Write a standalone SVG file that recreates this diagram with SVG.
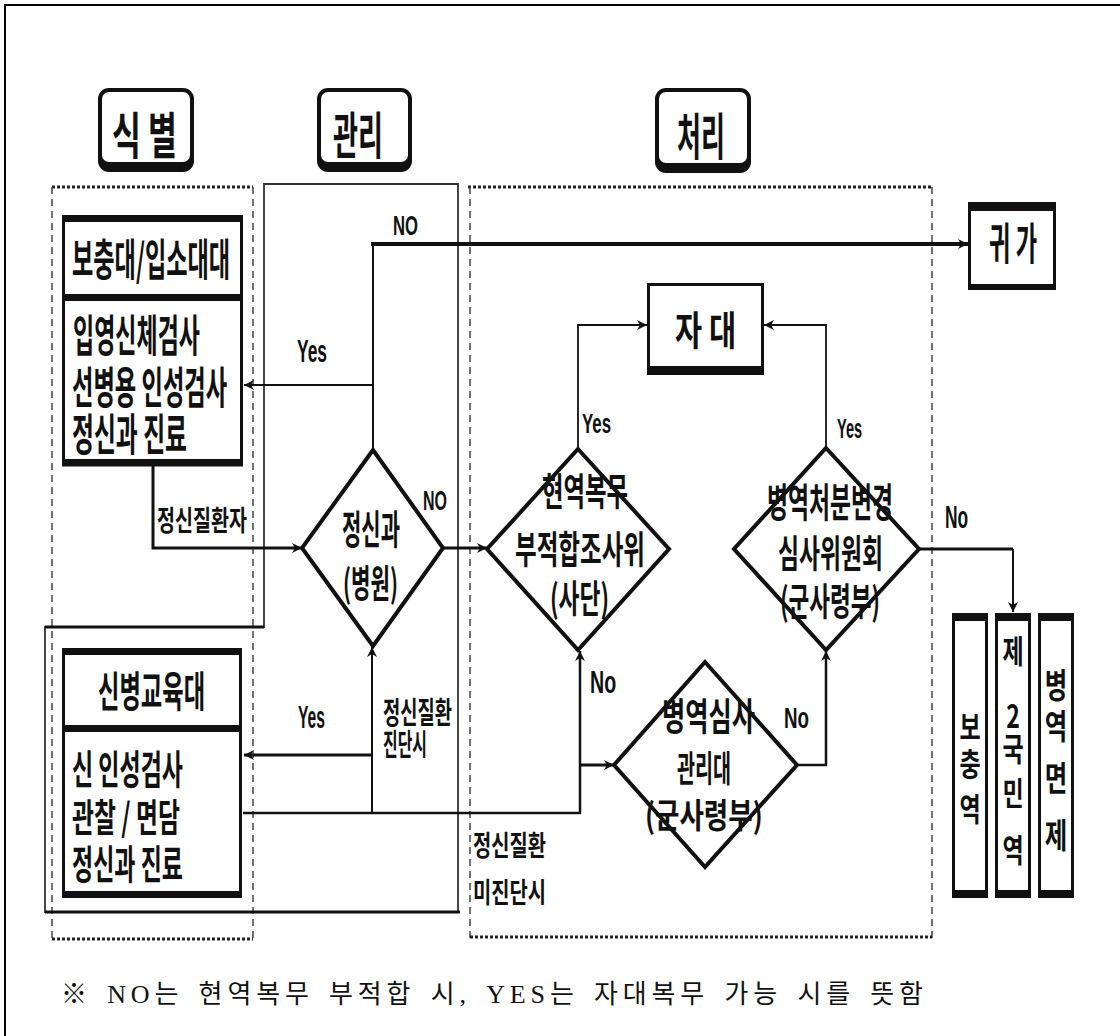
<svg xmlns="http://www.w3.org/2000/svg" width="1120" height="1036" viewBox="0 0 1120 1036">
<defs>
<marker id="arr" viewBox="0 0 10 10" refX="10" refY="5" markerWidth="10" markerHeight="10" markerUnits="userSpaceOnUse" orient="auto"><path d="M0,0 L10,5 L0,10 L3,5 z" fill="#111"/></marker>
</defs>
<style>
.hd{font-family:"Noto Sans CJK KR",sans-serif;font-weight:700;font-size:50px;fill:#111}
.bx{font-family:"Noto Sans CJK KR",sans-serif;font-weight:700;fill:#111}
.lb{font-family:"Noto Sans CJK KR",sans-serif;font-weight:700;fill:#111}
.en{font-family:"Liberation Sans",sans-serif;font-weight:700;fill:#111}
.note{font-family:"Liberation Serif","Noto Sans CJK KR",serif;font-size:26px;fill:#111;word-spacing:4px}
.ln{fill:none;stroke:#111}
.band{fill:#111}
.frame{fill:#fff;stroke:#111;stroke-width:3}
.dia{fill:#fff;stroke:#111;stroke-width:4;stroke-linejoin:miter}
.dot{fill:none;stroke:#222;stroke-width:3;stroke-dasharray:3 2}
.dash{fill:none;stroke:#444;stroke-width:1.5;stroke-dasharray:7 5}
</style>
<rect width="1120" height="1036" fill="#fff"/>
<path d="M5,1036 V5 H1120" fill="none" stroke="#000" stroke-width="2"/>

<g id="regions">
<line class="dot" x1="52" y1="187" x2="253" y2="187"/>
<line class="dash" x1="52" y1="187" x2="52" y2="940"/>
<line class="dash" x1="253" y1="187" x2="253" y2="940" stroke="#222" stroke-width="2"/>
<line class="dot" x1="52" y1="939" x2="253" y2="939" stroke-width="1.5"/>
<path d="M264,184 H458 V912 H45 V627 H264 Z" fill="none" stroke="#333" stroke-width="1.8"/>
<line x1="45" y1="912" x2="460" y2="912" stroke="#111" stroke-width="3"/>
<line x1="45" y1="627" x2="264" y2="627" stroke="#111" stroke-width="3"/>
<line class="dot" x1="468" y1="187" x2="932" y2="187"/>
<line class="dash" x1="470" y1="187" x2="470" y2="938"/>
<line class="dash" x1="932" y1="187" x2="932" y2="938"/>
<line class="dot" x1="470" y1="937" x2="932" y2="937"/>
</g>

<g id="hdr-sikbyeol"><rect x="98" y="88" width="96" height="84" rx="11" fill="#111"/><rect x="102" y="92" width="88" height="70" rx="7" fill="#fff"/><text class="hd" transform="translate(112,154) scale(0.585,1)" textLength="111" lengthAdjust="spacingAndGlyphs">식 별</text></g>
<g id="hdr-gwanri"><rect x="317" y="88" width="95" height="84" rx="11" fill="#111"/><rect x="321" y="92" width="87" height="70" rx="7" fill="#fff"/><text class="hd" transform="translate(333,154) scale(0.5,1)" textLength="100" lengthAdjust="spacingAndGlyphs">관리</text></g>
<g id="hdr-cheori"><rect x="655" y="88" width="96" height="85" rx="11" fill="#111"/><rect x="659" y="92" width="88" height="71" rx="7" fill="#fff"/><text class="hd" transform="translate(677,155) scale(0.48,1)" textLength="100" lengthAdjust="spacingAndGlyphs">처리</text></g>

<g id="connectors">
<path class="ln" stroke-width="3" d="M153,466 V548 H302" marker-end="url(#arr)"/>
<path class="ln" stroke-width="2" d="M373,450 V244"/>
<path class="ln" stroke-width="4" d="M371,244 H968" marker-end="url(#arr)"/>
<path class="ln" stroke="#555" stroke-width="2" d="M373,385 H244" marker-end="url(#arr)"/>
<path class="ln" stroke-width="3" d="M443,548 H487" marker-end="url(#arr)"/>
<path class="ln" stroke-width="1.8" d="M578,449 V325 H647" marker-end="url(#arr)"/>
<path class="ln" stroke-width="1.8" d="M826,448 V325 H764" marker-end="url(#arr)"/>
<path class="ln" stroke-width="3" d="M919,549 H1013"/>
<path class="ln" stroke-width="2" d="M1013,549 V612" marker-end="url(#arr)"/>
<path class="ln" stroke-width="2.5" d="M243,813 H580 V651" marker-end="url(#arr)"/>
<path class="ln" stroke-width="2" d="M372,813 V647" marker-end="url(#arr)"/>
<path class="ln" stroke="#666" stroke-width="3" d="M372,755 H244" marker-end="url(#arr)"/>
<path class="ln" stroke-width="3" d="M580,765 H614" marker-end="url(#arr)"/>
<path class="ln" stroke-width="2.5" d="M797,765 H826 V651" marker-end="url(#arr)"/>
</g>

<g id="n-bochungdae">
<rect class="frame" x="63.5" y="217" width="178" height="248"/>
<rect class="band" x="62" y="215" width="181" height="7"/>
<rect class="band" x="62" y="294" width="181" height="7"/>
<rect class="band" x="62" y="459" width="181" height="7"/>
<text class="bx" font-size="44" transform="translate(72,276) scale(0.485,1)" textLength="326" lengthAdjust="spacingAndGlyphs">보충대/입소대대</text>
<text class="bx" font-size="44" transform="translate(73,352) scale(0.481,1)" textLength="264" lengthAdjust="spacingAndGlyphs">입영신체검사</text>
<text class="bx" font-size="44" transform="translate(72,404) scale(0.488,1)" textLength="318" lengthAdjust="spacingAndGlyphs">선병용 인성검사</text>
<text class="bx" font-size="44" transform="translate(72,451) scale(0.5,1)" textLength="230" lengthAdjust="spacingAndGlyphs">정신과 진료</text>
</g>

<g id="n-sinbyeong">
<rect class="frame" x="63.5" y="650" width="177" height="246"/>
<rect class="band" x="62" y="648" width="180" height="7"/>
<rect class="band" x="62" y="725" width="180" height="7"/>
<rect class="band" x="62" y="891" width="180" height="7"/>
<text class="bx" font-size="42" transform="translate(98,707) scale(0.51,1)" textLength="210" lengthAdjust="spacingAndGlyphs">신병교육대</text>
<text class="bx" font-size="40" transform="translate(72,784) scale(0.531,1)" textLength="209" lengthAdjust="spacingAndGlyphs">신 인성검사</text>
<text class="bx" font-size="38" transform="translate(72,831) scale(0.586,1)" textLength="184" lengthAdjust="spacingAndGlyphs">관찰 / 면담</text>
<text class="bx" font-size="40" transform="translate(72,879) scale(0.531,1)" textLength="209" lengthAdjust="spacingAndGlyphs">정신과 진료</text>
</g>

<g id="n-gwiga">
<rect class="frame" x="969.5" y="204" width="85" height="84"/>
<rect class="band" x="968" y="202" width="88" height="9"/>
<rect class="band" x="968" y="284" width="88" height="6"/>
<text class="bx" font-size="44" transform="translate(989,260) scale(0.49,1)" textLength="98" lengthAdjust="spacingAndGlyphs">귀 가</text>
</g>

<g id="n-jadae">
<rect class="frame" x="648.5" y="284.5" width="114" height="88"/>
<rect class="band" x="647" y="366" width="117" height="9"/>
<text class="bx" font-size="40" transform="translate(675,345) scale(0.686,1)" textLength="89" lengthAdjust="spacingAndGlyphs">자 대</text>
</g>

<g id="d-jeongsingwa">
<polygon class="dia" points="373,450 443,548 373,646 302,548"/>
<text class="bx" font-size="40" transform="translate(342,544) scale(0.483,1)" textLength="120" lengthAdjust="spacingAndGlyphs">정신과</text>
<text class="bx" font-size="38" transform="translate(343,597) scale(0.544,1)" textLength="101" lengthAdjust="spacingAndGlyphs">(병원)</text>
</g>

<g id="d-hyeonyeok">
<polygon class="dia" points="578,449 669,549 578,650 487,549"/>
<text class="bx" font-size="38" transform="translate(542,505) scale(0.566,1)" textLength="152" lengthAdjust="spacingAndGlyphs">현역복무</text>
<text class="bx" font-size="38" transform="translate(515,563) scale(0.57,1)" textLength="228" lengthAdjust="spacingAndGlyphs">부적합조사위</text>
<text class="bx" font-size="38" transform="translate(550,612) scale(0.584,1)" textLength="101" lengthAdjust="spacingAndGlyphs">(사단)</text>
</g>

<g id="d-byeongyeokcheobun">
<polygon class="dia" points="826,448 919,549 826,650 734,549"/>
<text class="bx" font-size="40" transform="translate(767,517) scale(0.525,1)" textLength="240" lengthAdjust="spacingAndGlyphs">병역처분변경</text>
<text class="bx" font-size="38" transform="translate(778,567) scale(0.553,1)" textLength="190" lengthAdjust="spacingAndGlyphs">심사위원회</text>
<text class="bx" font-size="38" transform="translate(780,615) scale(0.565,1)" textLength="177" lengthAdjust="spacingAndGlyphs">(군사령부)</text>
</g>

<g id="d-byeongyeoksimsa">
<polygon class="dia" points="705,662 797,765 705,867 614,765"/>
<text class="bx" font-size="38" transform="translate(662,730) scale(0.612,1)" textLength="152" lengthAdjust="spacingAndGlyphs">병역심사</text>
<text class="bx" font-size="36" transform="translate(677,782) scale(0.5,1)" textLength="108" lengthAdjust="spacingAndGlyphs">관리대</text>
<text class="bx" font-size="34" transform="translate(645,828) scale(0.745,1)" textLength="158" lengthAdjust="spacingAndGlyphs">(군사령부)</text>
</g>

<g id="n-bochungyeok">
<rect class="frame" x="953.5" y="615" width="33" height="281"/>
<rect class="band" x="952" y="613" width="36" height="8"/>
<rect class="band" x="952" y="890" width="36" height="8"/>
<text class="bx" font-size="32" text-anchor="middle" transform="translate(970,0) scale(0.72,1)"><tspan x="0" y="739">보</tspan><tspan x="0" y="776">충</tspan><tspan x="0" y="821">역</tspan></text>
</g>
<g id="n-je2gukmin">
<rect class="frame" x="996.5" y="615" width="33" height="281"/>
<rect class="band" x="995" y="613" width="36" height="8"/>
<rect class="band" x="995" y="890" width="36" height="8"/>
<text class="bx" font-size="32" text-anchor="middle" transform="translate(1013,0) scale(0.72,1)"><tspan x="0" y="663">제</tspan><tspan x="0" y="728">2</tspan><tspan x="0" y="761">국</tspan><tspan x="0" y="805">민</tspan><tspan x="0" y="862">역</tspan></text>
</g>
<g id="n-myeonje">
<rect class="frame" x="1039.5" y="615" width="33" height="281"/>
<rect class="band" x="1038" y="613" width="36" height="8"/>
<rect class="band" x="1038" y="890" width="36" height="8"/>
<text class="bx" font-size="34" text-anchor="middle" transform="translate(1056,0) scale(0.72,1)"><tspan x="0" y="698">병</tspan><tspan x="0" y="739">역</tspan><tspan x="0" y="791">면</tspan><tspan x="0" y="848">제</tspan></text>
</g>

<g id="labels">
<text class="lb" font-size="28" transform="translate(157,531) scale(0.643,1)" textLength="140" lengthAdjust="spacingAndGlyphs">정신질환자</text>
<text class="lb" font-size="30" transform="translate(383,723) scale(0.575,1)" textLength="120" lengthAdjust="spacingAndGlyphs">정신질환</text>
<text class="lb" font-size="30" transform="translate(383,755) scale(0.489,1)" textLength="90" lengthAdjust="spacingAndGlyphs">진단시</text>
<text class="lb" font-size="28" transform="translate(473,856) scale(0.652,1)" textLength="112" lengthAdjust="spacingAndGlyphs">정신질환</text>
<text class="lb" font-size="28" transform="translate(473,903) scale(0.652,1)" textLength="112" lengthAdjust="spacingAndGlyphs">미진단시</text>
<text class="en" font-size="32" transform="translate(297,362) scale(0.527,1)" textLength="57" lengthAdjust="spacingAndGlyphs">Yes</text>
<text class="en" font-size="28" transform="translate(393,235) scale(0.595,1)" textLength="42" lengthAdjust="spacingAndGlyphs">NO</text>
<text class="en" font-size="28" transform="translate(423,510) scale(0.571,1)" textLength="42" lengthAdjust="spacingAndGlyphs">NO</text>
<text class="en" font-size="32" transform="translate(298,728) scale(0.474,1)" textLength="57" lengthAdjust="spacingAndGlyphs">Yes</text>
<text class="en" font-size="28" transform="translate(582,433) scale(0.582,1)" textLength="50" lengthAdjust="spacingAndGlyphs">Yes</text>
<text class="en" font-size="28" transform="translate(837,438) scale(0.502,1)" textLength="50" lengthAdjust="spacingAndGlyphs">Yes</text>
<text class="en" font-size="32" transform="translate(945,528) scale(0.539,1)" textLength="43" lengthAdjust="spacingAndGlyphs">No</text>
<text class="en" font-size="32" transform="translate(590,693) scale(0.609,1)" textLength="43" lengthAdjust="spacingAndGlyphs">No</text>
<text class="en" font-size="30" transform="translate(784,728) scale(0.625,1)" textLength="40" lengthAdjust="spacingAndGlyphs">No</text>
</g>

<text class="note" x="61" y="1003" textLength="862" lengthAdjust="spacing">※ NO는 현역복무 부적합 시, YES는 자대복무 가능 시를 뜻함</text>
</svg>
